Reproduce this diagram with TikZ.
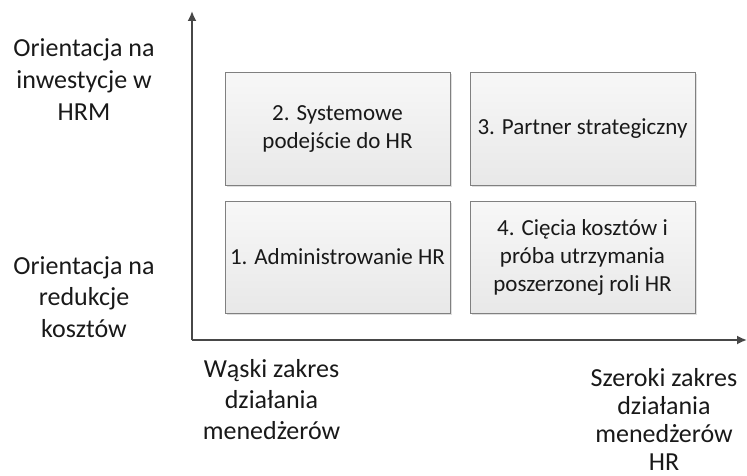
\documentclass[tikz,border=0pt]{standalone}
\usepackage{fontspec}
\setmainfont{Carlito}
\usepackage{tikz}
\usetikzlibrary{arrows.meta,shadows,positioning}

\begin{document}
\begin{tikzpicture}[x=1pt,y={(0pt,-1pt)},
  every node/.style={align=center, text=black!90},
  quad/.style={rectangle, draw=black!50, line width=1pt,
    top color=black!3, bottom color=black!9,
    minimum width=225pt, minimum height=112pt, inner sep=2pt,
    font=\fontsize{23}{28}\selectfont,
    drop shadow={opacity=0.25, shadow xshift=1.5pt, shadow yshift=-1.5pt}},
  axislabel/.style={inner sep=0pt},
  axis/.style={draw=black!72, line width=1.8pt,
    -{Latex[length=10pt,width=9pt]}}]

\useasboundingbox (0,0) rectangle (747,476);

% axes
\coordinate (o) at (192,340);
\coordinate (ytip) at (192,11);
\coordinate (xtip) at (747,340);
\draw [axis] (o) -- (ytip);
\draw [axis] (o) -- (xtip);

% quadrants
\node (q2) [quad] at (337.5,129) {2. Systemowe\\podejście do HR};
\node (q3) [quad, right=19pt of q2] {3. Partner strategiczny};
\node (q1) [quad, below=15pt of q2] {1. Administrowanie HR};
\node (q4) [quad, below=15pt of q3] {4. Cięcia kosztów i\\próba utrzymania\\poszerzonej roli HR};

% axis labels
\node (yhigh) [axislabel, font=\fontsize{26}{32}\selectfont] at (84,80)
  {Orientacja na\\inwestycje w\\HRM};
\node (ylow) [axislabel, font=\fontsize{26}{31.5}\selectfont] at (84,297)
  {Orientacja na\\redukcje\\kosztów};
\node (xlow) [axislabel, font=\fontsize{26}{31}\selectfont] at (271.5,399.5)
  {Wąski zakres\\działania\\menedżerów};
\node (xhigh) [axislabel, font=\fontsize{26}{28}\selectfont] at (664,419)
  {Szeroki zakres\\działania\\menedżerów\\HR};

\end{tikzpicture}
\end{document}
